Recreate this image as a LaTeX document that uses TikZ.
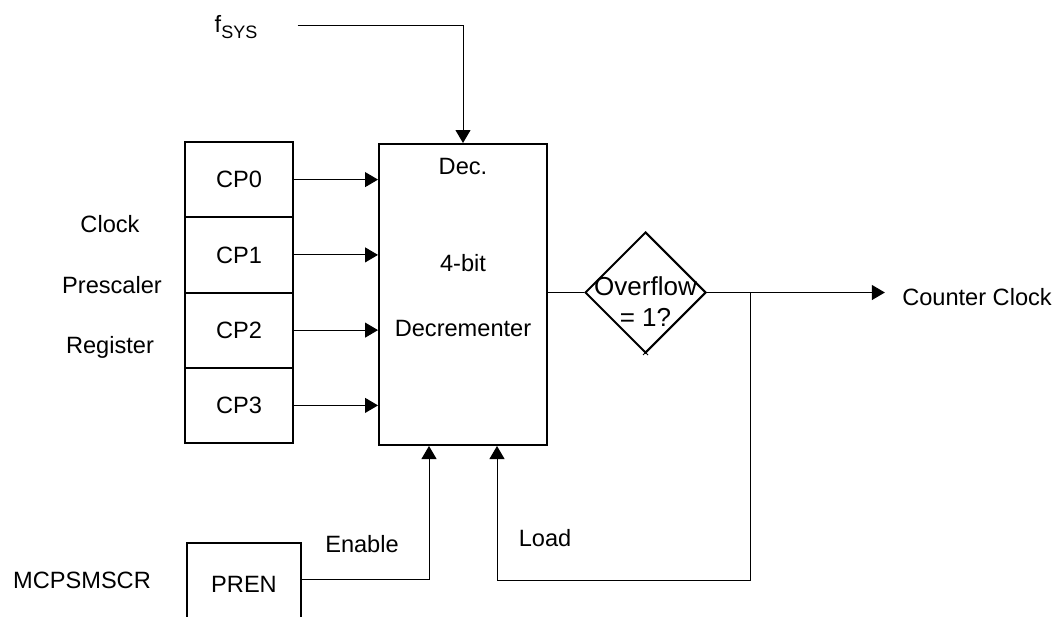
\documentclass[tikz,border=0pt]{standalone}
\usepackage{fontspec}
\setmainfont{Liberation Sans}
\usetikzlibrary{arrows.meta,shapes.geometric}
\begin{document}
\begin{tikzpicture}[x=0.5pt,y=-0.5pt,
  every node/.style={font=\fontsize{11.8pt}{14.5pt}\selectfont},
  box/.style={draw,line width=1pt,inner sep=0pt},
  regbox/.style={box,minimum width=54pt,minimum height=37.6pt},
  txt/.style={inner sep=0pt},
  conn/.style={line width=0.5pt},
  arr/.style={conn,-{Triangle[length=6.5pt,width=7.5pt]}}]
\useasboundingbox (0,0) rectangle (1058,616);
\clip (0,0) rectangle (1058,616);
% register boxes
\node[regbox] (cp0) at (239,179.6) {CP0};
\node[regbox] (cp1) at (239,254.9) {CP1};
\node[regbox] (cp2) at (239,330.1) {CP2};
\node[regbox] (cp3) at (239,405.4) {CP3};
% labels left
\node[txt] (lclock) at (110,224) {Clock};
\node[txt] (lpres) at (112,285) {Prescaler};
\node[txt] (lreg) at (110,347) {Register};
% decrementer
\node[box,minimum width=84pt,minimum height=150.5pt] (dec) at (463,294.5) {};
\node[txt] (tdec) at (463,166) {Dec.};
\node[txt] (t4) at (463,263) {4-bit};
\node[txt] (tdecr) at (463,328) {Decrementer};
% fsys
\node[txt] (fsys) at (236,27) {f\raisebox{-0.45ex}{\fontsize{9pt}{9pt}\selectfont SYS}};
% overflow diamond
\node[diamond,draw,line width=1pt,minimum width=60.5pt,minimum height=60.5pt,inner sep=0pt] (ovf) at (645.5,292.5) {};
\node[txt,align=center,font=\fontsize{13pt}{14pt}\selectfont] (tovf) at (645.5,302) {Overflow\\[1.5pt]= 1?};
\draw[conn] (643,350) -- (648,355) (648,350) -- (643,355);
% counter clock
\node[txt] (cc) at (977,297) {Counter Clock};
% PREN
\node[box,minimum width=57pt,minimum height=41pt] (pren) at (244,584) {PREN};
\node[txt] (mcps) at (82,580) {MCPSMSCR};
\node[txt] (ten) at (362,544) {Enable};
\node[txt] (tload) at (545,538) {Load};
% connectors
\foreach \c in {cp0,cp1,cp2,cp3}
  \draw[arr] (\c.east) -- (\c.east -| dec.west);
\draw[arr] ([xshift=20pt,yshift=1pt]fsys.east) -| (dec.north);
\draw[conn] (dec.east |- ovf.west) -- (ovf.west);
\draw[arr] (ovf.east) -- ([xshift=-8.5pt]cc.west |- ovf.east);
\coordinate (split) at (750,292.5);
\coordinate (loopc) at (750,580);
\draw[arr] (split) -- (loopc) -| ([xshift=17pt]dec.south);
\draw[arr] ([yshift=2.5pt]pren.east) -| ([xshift=-17pt]dec.south);
\end{tikzpicture}
\end{document}
